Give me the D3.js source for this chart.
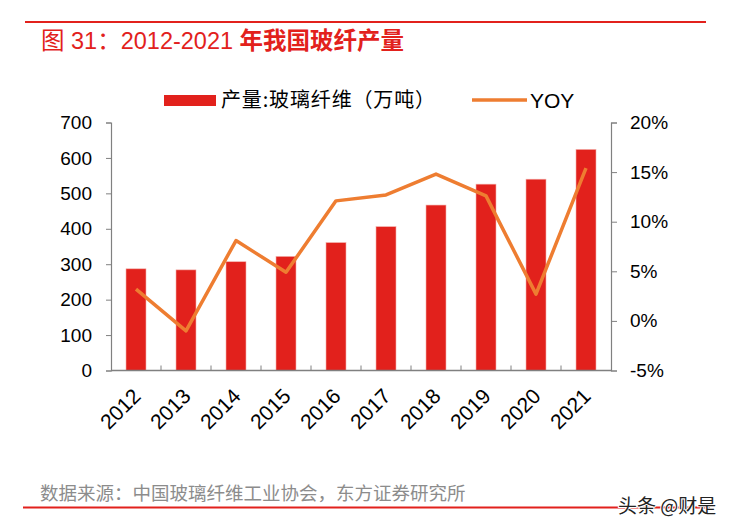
<!DOCTYPE html>
<html><head><meta charset="utf-8">
<script src="https://cdn.jsdelivr.net/npm/d3@7"></script>
<style>
body{margin:0;background:#fff;}
svg{display:block;font-family:"Liberation Sans",Arial,"Noto Sans CJK SC",sans-serif;}
</style></head>
<body>
<svg id="c" width="732" height="531"></svg>
<script>
const years = ["2012","2013","2014","2015","2016","2017","2018","2019","2020","2021"];
const output = [287, 284, 307, 322, 361, 406, 467, 526, 540, 624];
const yoy = [3.2, -1.0, 8.1, 4.9, 12.1, 12.7, 14.8, 12.6, 2.7, 15.4];
const leftTicks = [0,100,200,300,400,500,600,700];
const rightTicks = [-5,0,5,10,15,20];
const titleA = "图 31：2012-2021 ";
const titleB = "年我国玻纤产量";
const legendBar = "产量:玻璃纤维（万吨）";
const legendLine = "YOY";
const sourceText = "数据来源：中国玻璃纤维工业协会，东方证券研究所";
const watermark = "头条 @财是";

const svg = d3.select("#c");
const RED = "#e2211c", ORANGE = "#ee7d31";
const cjk = '"Noto Sans CJK SC","Liberation Sans",sans-serif';
const lat = '"Liberation Sans",Arial,"Noto Sans CJK SC",sans-serif';

// top rule and title
svg.append("line").attr("x1",25).attr("x2",706).attr("y1",22).attr("y2",22)
  .attr("stroke",RED).attr("stroke-width",2);
const tt = svg.append("text").attr("x",41).attr("y",48.5).attr("fill",RED).attr("font-size",23.5);
tt.append("tspan").style("font-family",lat).text(titleA);
tt.append("tspan").style("font-family",cjk).attr("font-weight","bold").text(titleB);

const xb = d3.scaleBand().domain(years).range([111,611]);
const yL = d3.scaleLinear().domain([0,700]).range([370.5,122.5]);
const yR = d3.scaleLinear().domain([-5,20]).range([370.5,122.5]);

// bars
svg.append("g").selectAll("rect").data(output).join("rect")
  .attr("x",(d,i)=>xb(years[i])+xb.bandwidth()/2-10)
  .attr("width",20)
  .attr("y",d=>yL(d)).attr("height",d=>yL(0)-yL(d))
  .attr("fill",RED).attr("stroke","#f3b0aa").attr("stroke-width",0.6);

// left axis
const gl = svg.append("g").attr("transform","translate(111,0)")
  .call(d3.axisLeft(yL).tickValues(leftTicks).tickSize(5).tickPadding(14));
gl.select(".domain").attr("stroke","#808080").attr("stroke-width",1.2);
gl.selectAll(".tick line").attr("stroke","#808080");
gl.selectAll("text").attr("font-size",19).attr("fill","#000").style("font-family",lat);

// right axis
const gr = svg.append("g").attr("transform","translate(611,0)")
  .call(d3.axisRight(yR).tickValues(rightTicks).tickSize(6).tickPadding(13).tickFormat(d=>d+"%"));
gr.select(".domain").attr("stroke","#808080").attr("stroke-width",1.2);
gr.selectAll(".tick line").attr("stroke","#808080");
gr.selectAll("text").attr("font-size",19).attr("fill","#000").style("font-family",lat);

// bottom axis
const gb = svg.append("g").attr("transform","translate(0,370.5)");
gb.append("line").attr("x1",111).attr("x2",611).attr("stroke","#808080").attr("stroke-width",1.5);
gb.selectAll("line.t").data(years.slice(1)).join("line").attr("class","t")
  .attr("x1",d=>xb(d)).attr("x2",d=>xb(d)).attr("y1",0).attr("y2",-5).attr("stroke","#808080");
gb.selectAll("text").data(years).join("text")
  .attr("transform",d=>`translate(${xb(d)+xb.bandwidth()/2+6},${27}) rotate(-45)`)
  .attr("text-anchor","end")
  .attr("font-size",21).attr("fill","#000").style("font-family",lat)
  .text(d=>d);

// line
const line = d3.line().x((d,i)=>xb(years[i])+xb.bandwidth()/2).y(d=>yR(d));
svg.append("path").datum(yoy).attr("d",line).attr("fill","none")
  .attr("stroke",ORANGE).attr("stroke-width",3.5).attr("stroke-linejoin","round");

// legend
svg.append("rect").attr("x",164).attr("y",95).attr("width",52).attr("height",11).attr("fill",RED);
svg.append("text").attr("x",221).attr("y",107).attr("font-size",20).style("font-family",cjk)
  .attr("fill","#000").attr("textLength",214).attr("lengthAdjust","spacing").text(legendBar);
svg.append("line").attr("x1",472).attr("x2",527).attr("y1",100).attr("y2",100)
  .attr("stroke",ORANGE).attr("stroke-width",3.5);
svg.append("text").attr("x",530).attr("y",108).attr("font-size",21)
  .style("font-family",lat).attr("fill","#000").text(legendLine);

// footer
svg.append("text").attr("x",40).attr("y",500).attr("font-size",18.5).style("font-family",cjk)
  .attr("fill","#8c8c8c").text(sourceText);
svg.append("line").attr("x1",23).attr("x2",710).attr("y1",507.5).attr("y2",507.5)
  .attr("stroke",RED).attr("stroke-width",2);
svg.append("text").attr("x",618).attr("y",513).attr("font-size",19).style("font-family",cjk)
  .attr("fill","#222").attr("stroke","#fff").attr("stroke-width",2).attr("paint-order","stroke")
  .text(watermark);
</script>
</body></html>
